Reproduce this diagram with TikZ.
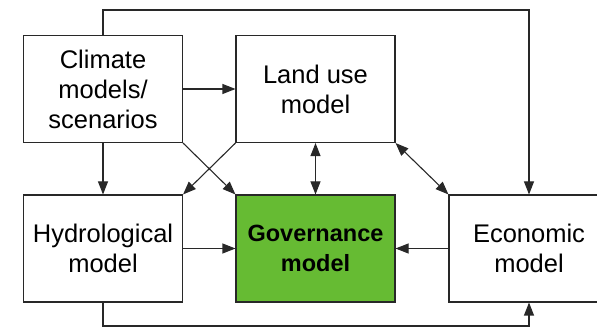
\documentclass[tikz,border=0pt]{standalone}
\usepackage{fontspec}
\setmainfont{Liberation Sans}
\usetikzlibrary{arrows.meta}
\definecolor{govgreen}{RGB}{102,187,51}
\definecolor{edge}{RGB}{40,40,40}
\begin{document}
\begin{tikzpicture}[x=1pt,y=-1pt,
  box/.style={draw=edge,line width=1.1pt,rectangle,minimum width=159pt,minimum height=107pt,
    align=center,inner sep=0pt,font=\fontsize{25.5}{30}\selectfont},
  conn/.style={draw=edge,line width=1.1pt,-{Triangle[length=13pt,width=10pt]}},
  biconn/.style={draw=edge,line width=1.1pt,{Triangle[length=13pt,width=10pt]}-{Triangle[length=13pt,width=10pt]}}]
\useasboundingbox (0,0) rectangle (597,328);
\node[box] (clim) at (103,89) {Climate\\models/\\scenarios};
\node[box] (land) at (315.5,89) {Land use\\model};
\node[box] (hyd) at (103,248.5) {Hydrological\\model};
\node[box,fill=govgreen,font=\fontsize{23.5}{30}\selectfont\bfseries] (gov) at (315.5,248.5) {Governance\\model};
\node[box,minimum width=160pt] (eco) at (529,248.5) {Economic\\model};
\coordinate (tl) at (103,10);
\coordinate (bl) at (103,326);
\draw[conn] (clim) -- (land);
\draw[conn] (clim) -- (hyd);
\draw[conn] (clim.south east) -- (gov.north west);
\draw[conn] (land.south west) -- (hyd.north east);
\draw[biconn] (land) -- (gov);
\draw[biconn] (land.south east) -- (eco.north west);
\draw[conn] (hyd) -- (gov);
\draw[conn] (eco) -- (gov);
\draw[conn] (clim.north) -- (tl) -| (eco.north);
\draw[conn] (hyd.south) -- (bl) -| (eco.south);
\end{tikzpicture}
\end{document}
